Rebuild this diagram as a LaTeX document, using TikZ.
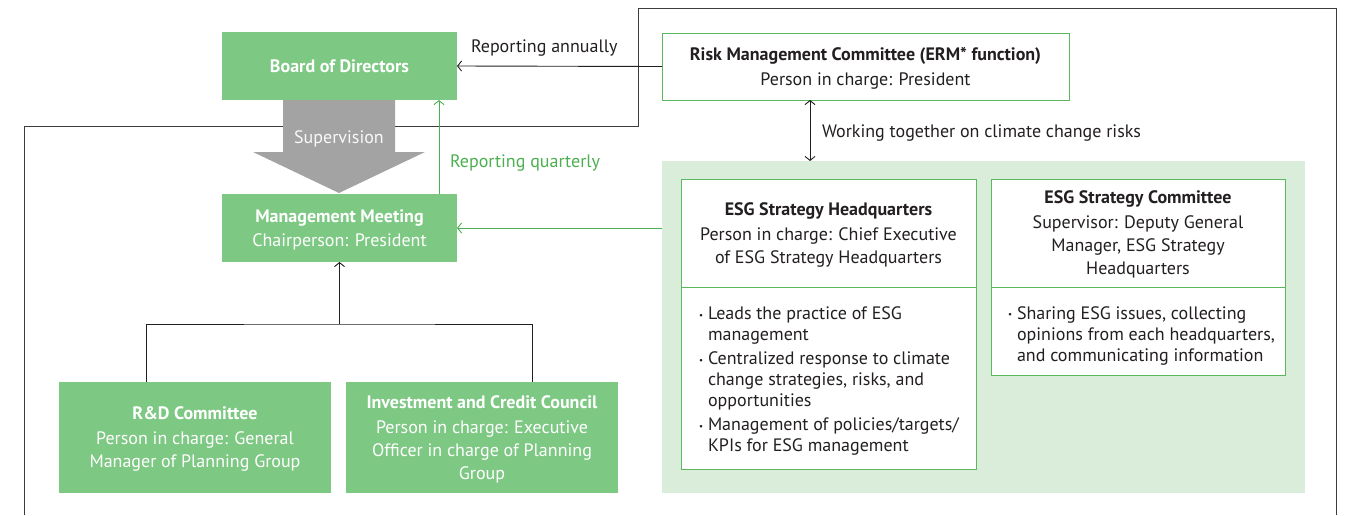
\documentclass[tikz,border=0pt]{standalone}
\usepackage{fontspec}
\setmainfont{PT Sans}
\usetikzlibrary{arrows.meta}
\definecolor{boxgreen}{HTML}{7DC883}
\definecolor{lightgreen}{HTML}{D9EDDA}
\definecolor{linegreen}{HTML}{5CB85F}
\definecolor{txtgreen}{HTML}{4CB050}
\definecolor{arrgray}{HTML}{A3A3A3}
\definecolor{framecol}{HTML}{3C3C3C}
\definecolor{ink}{HTML}{231F20}
\newcommand{\bul}{\makebox[9pt][l]{\raisebox{1.8pt}{\fontsize{9}{9}\selectfont•}}}
\newcommand{\ind}{\hspace*{9pt}}
\begin{document}
\begin{tikzpicture}[x=1pt,y=-1pt,
  every node/.style={inner sep=0pt, outer sep=0pt, font=\fontsize{18}{23}\selectfont, text=ink},
  gbox/.style={fill=boxgreen, text=white, align=center, text depth=0pt},
  wbox/.style={fill=white, draw=linegreen, line width=1pt, align=center, text depth=0pt},
  frameline/.style={draw=framecol, line width=1pt},
  arr/.style={draw=ink, line width=0.9pt, -{Straight Barb[length=4pt,width=10pt]}},
  garr/.style={draw=txtgreen, line width=0.9pt, -{Straight Barb[length=4pt,width=10pt]}},
  darr/.style={draw=ink, line width=0.9pt, {Straight Barb[length=4pt,width=10pt]}-{Straight Barb[length=4pt,width=10pt]}},
  bullets/.style={align=left, anchor=north west, font=\fontsize{18}{21}\selectfont}
]
\useasboundingbox (0,0) rectangle (1345,515);
% outer frame
\draw[frameline] (24,515) -- (24,126) -- (638,126) -- (638,8) -- (1336,8) -- (1336,515);

% left column
\node[gbox, minimum width=235pt, minimum height=68pt] (board) at (339.5,66) {\textbf{Board of Directors}};
\node[gbox, minimum width=235pt, minimum height=68pt] (mm) at (339.5,228) {\textbf{Management Meeting}\\[1pt]Chairperson: President};
\node[gbox, minimum width=272pt, minimum height=111pt] (rd) at (195,437.5) {\textbf{R\&D Committee}\\[2pt]Person in charge: General\\Manager of Planning Group};
\node[gbox, minimum width=272pt, minimum height=111pt] (inv) at (482,437.5) {\textbf{Investment and Credit Council}\\[2pt]Person in charge: Executive\\Officer in charge of Planning\\Group};

% supervision arrow
\fill[arrgray] (283,100) -- (395,100) -- (395,152) -- (425,152) -- (339,193) -- (253,152) -- (283,152) -- cycle;
\node[text=white!92!arrgray] (sup) at (339,139) {Supervision};

% risk committee
\node[wbox, minimum width=407pt, minimum height=67pt] (risk) at (865.5,66.5) {\textbf{Risk Management Committee (ERM* function)}\\[2pt]Person in charge: President};

% ESG region
\node[fill=lightgreen, minimum width=643pt, minimum height=332pt] (esg) at (983.5,327) {};
\node[wbox, minimum width=295pt, minimum height=108pt] (hqh) at (828.5,233) {\textbf{ESG Strategy Headquarters}\\[2pt]Person in charge: Chief Executive\\of ESG Strategy Headquarters};
\node[wbox, minimum width=295pt, minimum height=182pt, anchor=north] (hqb) at (hqh.south) {};
\node[bullets] (hqt) at (699,307) {\bul Leads the practice of ESG\\
\ind management\\[3pt]
\bul Centralized response to climate\\
\ind change strategies, risks, and\\
\ind opportunities\\[3pt]
\bul Management of policies/targets/\\
\ind KPIs for ESG management};
\node[wbox, minimum width=294pt, minimum height=108pt] (cmh) at (1138,233) {\textbf{ESG Strategy Committee}\\[2pt]Supervisor: Deputy General\\Manager, ESG Strategy\\Headquarters};
\node[wbox, minimum width=294pt, minimum height=88pt, anchor=north] (cmb) at (cmh.south) {};
\node[bullets] (cmt) at (1008,306.5) {\bul Sharing ESG issues, collecting\\
\ind opinions from each headquarters,\\
\ind and communicating information};

% connectors
\draw[arr] (risk.west) -- (board.east);
\node[anchor=west] (lann) at (471,48) {Reporting annually};
\draw[garr] ([xshift=-18pt]mm.north east) -- ([xshift=-18pt]board.south east);
\node[anchor=west, text=txtgreen] (lq) at (450,163) {Reporting quarterly};
\draw[garr] (esg.west |- mm.east) -- (mm.east);
\coordinate (dtop) at ([xshift=-55.5pt]risk.south);
\draw[darr] (dtop) -- (dtop |- esg.north);
\node[anchor=west] (lw) at (822,133) {Working together on climate change risks};
\coordinate (j) at (339.5,324);
\draw[arr] (j) -- (mm.south);
\draw[draw=ink, line width=0.9pt] ([xshift=87pt]rd.north west) |- (j) -| ([xshift=186pt]inv.north west);
\end{tikzpicture}
\end{document}
